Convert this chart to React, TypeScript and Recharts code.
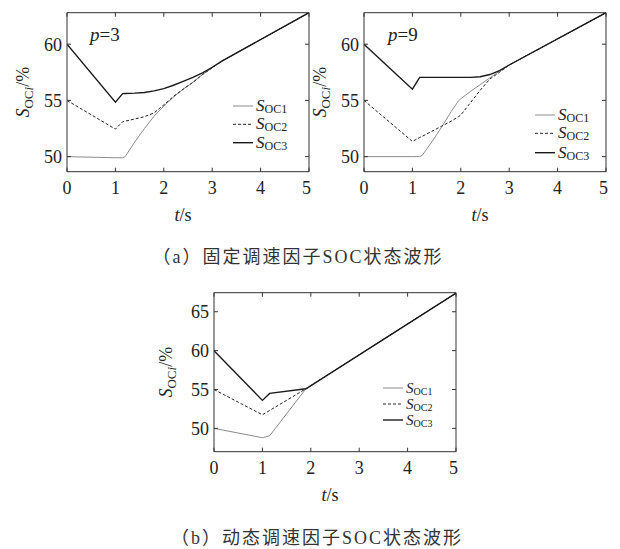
import React from "react";
import { LineChart, Line, XAxis, YAxis } from "recharts";

// ---- data: (a) fixed speed factor, p = 3 ----
const tP3 = [0, 1, 1.15, 1.2, 1.4, 1.6, 1.8, 2.0, 2.2, 2.4, 2.6, 2.8, 3.0, 3.2, 5];
const soc1P3 = [50.0, 49.9, 49.9, 50.0, 51.3, 52.5, 53.6, 54.5, 55.3, 56.0, 56.6, 57.3, 57.9, 58.5, 62.8];
const soc2P3 = [55.0, 52.45, 53.1, 53.15, 53.35, 53.55, 53.9, 54.6, 55.35, 56.0, 56.6, 57.3, 57.9, 58.5, 62.8];
const soc3P3 = [60.0, 54.85, 55.6, 55.62, 55.65, 55.7, 55.85, 56.05, 56.35, 56.7, 57.05, 57.45, 57.95, 58.5, 62.8];

// ---- data: (a) fixed speed factor, p = 9 ----
const tP9 = [0, 1, 1.15, 1.2, 1.4, 1.6, 1.8, 1.95, 2.0, 2.2, 2.4, 2.6, 2.8, 3.0, 5];
const soc1P9 = [50.0, 50.0, 50.0, 50.1, 51.3, 52.6, 54.0, 54.95, 55.15, 55.8, 56.4, 57.0, 57.6, 58.15, 62.8];
const soc2P9 = [55.0, 51.35, 51.7, 51.8, 52.25, 52.7, 53.15, 53.55, 53.7, 54.8, 55.9, 56.9, 57.5, 58.15, 62.8];
const soc3P9 = [60.0, 56.0, 57.05, 57.05, 57.05, 57.05, 57.05, 57.05, 57.05, 57.05, 57.1, 57.3, 57.65, 58.15, 62.8];

// ---- data: (b) dynamic speed factor ----
const tDyn = [0, 1, 1.15, 1.9, 5];
const soc1Dyn = [50.0, 48.8, 49.05, 55.1, 67.4];
const soc2Dyn = [55.0, 51.75, 52.3, 55.1, 67.4];
const soc3Dyn = [60.0, 53.6, 54.5, 55.1, 67.4];

const xTicks = [0, 1, 2, 3, 4, 5];
const yTicksA = [50, 55, 60];
const yTicksB = [50, 55, 60, 65];
const seriesNames = ["OC1", "OC2", "OC3"];

const SERIF = "'Times New Roman', 'Liberation Serif', Tinos, 'DejaVu Serif', serif";
const INK = "#222";

const seriesStyle = [
  { key: "s1", color: "#8c8c8c", width: 1, dash: undefined as string | undefined },
  { key: "s2", color: "#222", width: 1, dash: "3 2" },
  { key: "s3", color: "#1a1a1a", width: 1.4, dash: undefined as string | undefined },
];

function buildRows(t: number[], s1: number[], s2: number[], s3: number[]) {
  return t.map((v, i) => ({ t: v, s1: s1[i], s2: s2[i], s3: s3[i] }));
}

const XTitle = (props: any) => {
  const { x, y, width } = props.viewBox;
  return (
    <text x={x + width / 2 - 5} y={y + 49} textAnchor="middle" style={{ fontFamily: SERIF }} fontSize={18} fill={INK}>
      <tspan fontStyle="italic">t</tspan>/s
    </text>
  );
};

const makeYTitle = (offsetX: number) => (props: any) => {
  const { x, y, height } = props.viewBox;
  const cx = x + offsetX;
  const cy = y + height / 2;
  return (
    <g transform={`translate(${cx},${cy}) rotate(-90)`}>
      <text x={0} y={6} textAnchor="middle" style={{ fontFamily: SERIF }} fontSize={18} fill={INK}>
        <tspan fontStyle="italic">S</tspan>
        <tspan fontSize={13} dy={4}>OC</tspan>
        <tspan fontSize={13} fontStyle="italic">i</tspan>
        <tspan dy={-4}>/%</tspan>
      </text>
    </g>
  );
};

interface PanelProps {
  rows: { t: number; s1: number; s2: number; s3: number }[];
  left: number;
  top: number;
  yDomain: [number, number];
  yTicks: number[];
  yTitleX: number;
  legendX: number;
  legendRows: number[];
  legendFont?: number;
  pText?: string;
  pX?: number;
}

function Panel({ rows, left, top, yDomain, yTicks, yTitleX, legendX, legendRows, legendFont = 17, pText, pX }: PanelProps) {
  const W = 311;
  const H = 230;
  const tickStyle = { fontSize: 18, fill: INK, style: { fontFamily: SERIF } };
  const YTitle = makeYTitle(yTitleX);
  return (
    <div style={{ position: "absolute", left, top, width: W, height: H, fontFamily: SERIF }}>
      <LineChart width={W} height={H} data={rows} margin={{ top: 11.7, right: 0, bottom: 0, left: 0 }}>
        <XAxis
          dataKey="t"
          type="number"
          domain={[0, 5]}
          ticks={xTicks}
          allowDataOverflow
          height={58.3}
          tickSize={-4}
          tickMargin={14}
          stroke="#333"
          tick={tickStyle}
          label={<XTitle />}
        />
        <XAxis
          xAxisId="top"
          orientation="top"
          dataKey="t"
          type="number"
          domain={[0, 5]}
          ticks={xTicks}
          height={1}
          tickSize={-4}
          stroke="#333"
          tick={() => <g />}
        />
        <YAxis
          type="number"
          domain={yDomain}
          ticks={yTicks}
          allowDataOverflow
          width={67}
          tickSize={-4}
          tickMargin={9}
          stroke="#333"
          tick={tickStyle}
          label={<YTitle />}
        />
        <YAxis
          yAxisId="right"
          orientation="right"
          type="number"
          domain={yDomain}
          ticks={yTicks}
          allowDataOverflow
          width={2}
          tickSize={-4}
          stroke="#333"
          tick={() => <g />}
        />
        {seriesStyle.map((s) => (
          <Line
            key={s.key}
            dataKey={s.key}
            type="linear"
            stroke={s.color}
            strokeWidth={s.width}
            strokeDasharray={s.dash}
            dot={false}
            activeDot={false}
            isAnimationActive={false}
          />
        ))}
      </LineChart>
      <svg width={W} height={H} style={{ position: "absolute", left: 0, top: 0, pointerEvents: "none", fontFamily: SERIF }}>
        {pText && (
          <text x={pX} y={41} fontSize={19} fill={INK}>
            <tspan fontStyle="italic">p</tspan>={pText}
          </text>
        )}
        {seriesStyle.map((s, i) => (
          <g key={s.key}>
            <line
              x1={legendX}
              x2={legendX + 20}
              y1={legendRows[i]}
              y2={legendRows[i]}
              stroke={s.color}
              strokeWidth={s.width}
              strokeDasharray={s.dash}
            />
            <text x={legendX + 23} y={legendRows[i] + 5} fontSize={legendFont} fill={INK}>
              <tspan fontStyle="italic">S</tspan>
              <tspan fontSize={legendFont - 5} dy={2}>{seriesNames[i]}</tspan>
            </text>
          </g>
        ))}
      </svg>
    </div>
  );
}

const captionStyle: React.CSSProperties = {
  position: "absolute",
  width: 400,
  textAlign: "center",
  fontFamily: "'Times New Roman', 'Liberation Serif', 'Noto Sans CJK SC', serif",
  fontSize: 18,
  lineHeight: "20px",
  letterSpacing: 2,
  color: "#333",
  whiteSpace: "nowrap",
};

export default function App() {
  return (
    <div style={{ position: "absolute", left: 0, top: 0, width: 620, height: 549, background: "#fff", overflow: "hidden" }}>
      <Panel
        rows={buildRows(tP3, soc1P3, soc2P3, soc3P3)}
        left={0}
        top={0}
        yDomain={[48.66, 62.8]}
        yTicks={yTicksA}
        yTitleX={23}
        legendX={233}
        legendRows={[106, 124.3, 142.7]}
        pText="3"
        pX={90}
      />
      <Panel
        rows={buildRows(tP9, soc1P9, soc2P9, soc3P9)}
        left={297}
        top={0}
        yDomain={[48.66, 62.8]}
        yTicks={yTicksA}
        yTitleX={23}
        legendX={238}
        legendRows={[115, 133.3, 152.7]}
        pText="9"
        pX={91}
      />
      <Panel
        rows={buildRows(tDyn, soc1Dyn, soc2Dyn, soc3Dyn)}
        left={147.3}
        top={280}
        yDomain={[47, 67.45]}
        yTicks={yTicksB}
        yTitleX={19}
        legendX={236}
        legendRows={[108, 124, 140]}
        legendFont={15}
      />
      <div style={{ ...captionStyle, left: 98, top: 247 }}>（a）固定调速因子SOC状态波形</div>
      <div style={{ ...captionStyle, left: 117, top: 528 }}>（b）动态调速因子SOC状态波形</div>
    </div>
  );
}
